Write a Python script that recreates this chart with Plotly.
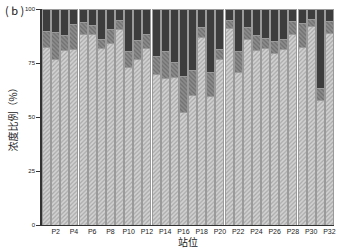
import plotly.graph_objects as go

stations = [f"P{i}" for i in range(1, 33)]
# cumulative boundaries (%)
low_part = [82.2, 76.5, 80.8, 81.3, 88.2, 88.2, 81.7, 84.2, 90.7, 72.7,
            76.8, 81.6, 69.9, 67.6, 68.5, 52.3, 60.0, 87.0, 59.5, 76.8,
            91.0, 70.4, 86.1, 81.0, 81.7, 79.6, 81.1, 88.2, 82.4, 91.9,
            57.7, 88.8]
mid_top = [89.6, 89.3, 87.8, 92.7, 93.8, 92.4, 85.9, 90.4, 94.5, 80.4,
           85.4, 88.2, 77.9, 80.1, 75.3, 68.8, 71.4, 91.4, 70.6, 81.4,
           94.7, 80.4, 91.6, 87.8, 86.4, 85.0, 85.8, 94.2, 93.5, 95.0,
           63.4, 94.1]
mid_part = [round(m - l, 1) for m, l in zip(mid_top, low_part)]
top_part = [round(100 - m, 1) for m in mid_top]
tick_labels = [f"P{i}" for i in range(2, 33, 2)]

fig = go.Figure()
fig.add_trace(go.Bar(
    x=stations, y=low_part, name="low",
    marker=dict(color="#cfcfcf",
                line=dict(color="#9a9a9a", width=1),
                pattern=dict(shape="/", fgcolor="#7e7e7e", bgcolor="#d2d2d2",
                             size=3, solidity=0.4)),
))
fig.add_trace(go.Bar(
    x=stations, y=mid_part, name="mid",
    marker=dict(color="#7a7a7a",
                line=dict(color="#9a9a9a", width=1),
                pattern=dict(shape="\\", fgcolor="#505050", bgcolor="#8c8c8c",
                             size=3, solidity=0.4)),
))
fig.add_trace(go.Bar(
    x=stations, y=top_part, name="high",
    marker=dict(color="#3d3d3d", line=dict(color="#9a9a9a", width=1)),
))

fig.update_layout(
    barmode="stack",
    bargap=0.12,
    width=339, height=249,
    margin=dict(l=42, r=3, t=9, b=24),
    paper_bgcolor="white", plot_bgcolor="white",
    showlegend=False,
    font=dict(family="Liberation Sans, Arial, sans-serif", size=7, color="#222"),
    xaxis=dict(
        tickmode="array", tickvals=tick_labels, ticktext=tick_labels,
        showline=True, linecolor="#333", linewidth=1,
        ticks="", tickfont=dict(size=7),
        title=dict(text="站位", font=dict(family="Noto Sans CJK SC", size=10), standoff=3),
        range=[-0.5, 31.5],
    ),
    yaxis=dict(
        range=[0, 100], tickvals=[0, 25, 50, 75, 100],
        showline=True, linecolor="#333", linewidth=1.5,
        ticks="outside", ticklen=4, tickcolor="#333",
        showgrid=False, zeroline=False, tickfont=dict(size=6),
        title=dict(text="浓度比例（%）", font=dict(family="Noto Sans CJK SC", size=10), standoff=6),
    ),
)
fig.add_annotation(text="( b )", x=0, y=1, xref="paper", yref="paper",
                   xanchor="left", yanchor="top", xshift=-39, yshift=9,
                   showarrow=False,
                   font=dict(family="Noto Sans CJK SC", size=11, color="#111"))

fig.write_html("out.html", config={"displayModeBar": False},
               post_script="document.body.style.margin='0';document.body.style.padding='0';")
